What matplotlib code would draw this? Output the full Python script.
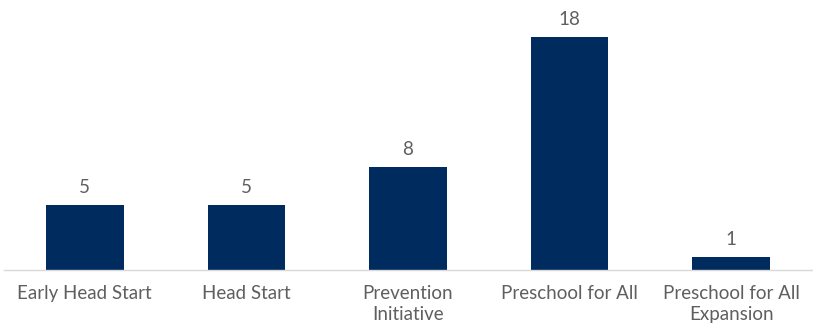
import matplotlib
matplotlib.use("Agg")
import matplotlib.pyplot as plt

categories = ["Early Head Start", "Head Start", "Prevention\nInitiative",
              "Preschool for All", "Preschool for All\nExpansion"]
values = [5, 5, 8, 18, 1]

BAR = "#002b5f"
TXT = "#5f5f5f"

plt.rcParams["font.family"] = ["Lato", "DejaVu Sans"]

fig = plt.figure(figsize=(8.13, 3.24), dpi=100)
ax = fig.add_axes([4 / 813, 1 - 270 / 324, 808 / 813, 270 / 324])
x = range(len(values))
ax.bar(x, values, width=0.48, color=BAR)
for xi, v in zip(x, values):
    ax.text(xi, v + 0.7, str(v), ha="center", va="bottom",
            fontsize=13.5, color=TXT)

ax.set_xlim(-0.5, len(values) - 0.5)
ax.set_ylim(0, 20.9)
ax.set_yticks([])
ax.set_xticks(list(x))
ax.set_xticklabels(categories, fontsize=13.5, color=TXT, linespacing=1.25)
ax.tick_params(axis="x", length=0, pad=11)
for s in ["top", "right", "left"]:
    ax.spines[s].set_visible(False)
ax.spines["bottom"].set_color("#d9d9d9")
ax.spines["bottom"].set_linewidth(1.0)

fig.savefig("out.png", dpi=100)
